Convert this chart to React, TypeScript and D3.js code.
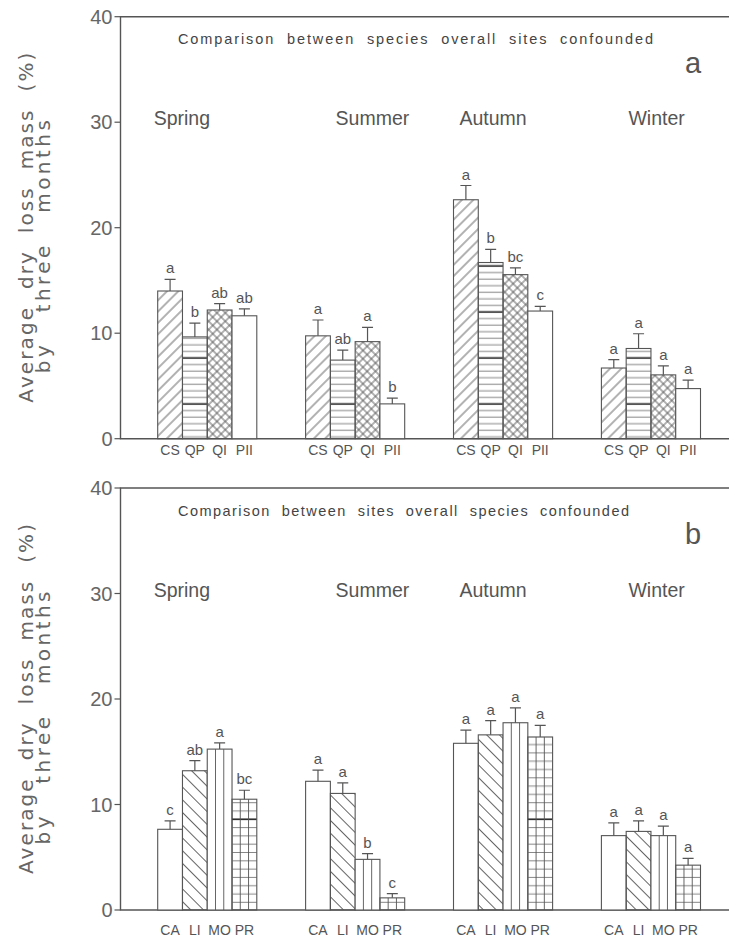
import React, { useEffect, useRef } from 'react';
import * as d3 from 'd3';

// saisons et graduations
const seasons = ['Spring', 'Summer', 'Autumn', 'Winter'];
const yTicks = [0, 10, 20, 30, 40];

// panneau a : espèces
const speciesCodes = ['CS', 'QP', 'QI', 'PII'];
const speciesMeans = [
  [14.0, 9.65, 12.2, 11.65],
  [9.75, 7.45, 9.2, 3.3],
  [22.65, 16.7, 15.55, 12.1],
  [6.7, 8.55, 6.05, 4.75],
];
const speciesErrors = [
  [1.1, 1.3, 0.6, 0.65],
  [1.5, 0.95, 1.35, 0.55],
  [1.35, 1.25, 0.65, 0.45],
  [0.8, 1.4, 0.85, 0.8],
];
const speciesLetters = [
  ['a', 'b', 'ab', 'ab'],
  ['a', 'ab', 'a', 'b'],
  ['a', 'b', 'bc', 'c'],
  ['a', 'a', 'a', 'a'],
];

// panneau b : sites
const siteCodes = ['CA', 'LI', 'MO', 'PR'];
const siteMeans = [
  [7.65, 13.2, 15.25, 10.5],
  [12.2, 11.05, 4.8, 1.15],
  [15.8, 16.6, 17.75, 16.4],
  [7.05, 7.45, 7.05, 4.25],
];
const siteErrors = [
  [0.8, 0.95, 0.6, 0.85],
  [1.05, 1.0, 0.55, 0.4],
  [1.25, 1.35, 1.4, 1.1],
  [1.2, 1.0, 0.9, 0.65],
];
const siteLetters = [
  ['c', 'ab', 'a', 'bc'],
  ['a', 'a', 'b', 'c'],
  ['a', 'a', 'a', 'a'],
  ['a', 'a', 'a', 'a'],
];

const W = 729;
const H = 942;
const axisX = 120.5;
const FONT = '"Liberation Sans", Arial, sans-serif';
const INK = '#555';
const seasonLabelDx = [-4, 30, 6, 27];

interface PanelOpts {
  top: number;
  codes: string[];
  means: number[][];
  errors: number[][];
  letters: string[][];
  fills: string[];
  vlines: boolean[];
  title: string;
  titleLen: number;
  tag: string;
  codeDy: number;
}

const App: React.FC = () => {
  const ref = useRef<SVGSVGElement>(null);

  useEffect(() => {
    if (!ref.current) return;
    const svg = d3.select(ref.current);
    svg.selectAll('*').remove();

    const defs = svg.append('defs');

    // hachures obliques (et croisées)
    const hatch = (id: string, angle: number, gap: number, cross = false) => {
      const p = defs.append('pattern')
        .attr('id', id)
        .attr('patternUnits', 'userSpaceOnUse')
        .attr('width', gap)
        .attr('height', gap)
        .attr('patternTransform', `rotate(${angle})`);
      p.append('line')
        .attr('x1', gap / 2).attr('x2', gap / 2)
        .attr('y1', -1).attr('y2', gap + 1)
        .attr('stroke', INK).attr('stroke-width', 0.9);
      if (cross) {
        p.append('line')
          .attr('x1', -1).attr('x2', gap + 1)
          .attr('y1', gap / 2).attr('y2', gap / 2)
          .attr('stroke', INK).attr('stroke-width', 0.9);
      }
    };
    // lignes horizontales, une plus foncée par période
    const rules = (id: string, gap: number, count: number, offset: number) => {
      const p = defs.append('pattern')
        .attr('id', id)
        .attr('patternUnits', 'userSpaceOnUse')
        .attr('width', 10)
        .attr('height', gap * count)
        .attr('y', offset);
      d3.range(count).forEach(i => {
        p.append('line')
          .attr('x1', -1).attr('x2', 11)
          .attr('y1', (i + 0.5) * gap).attr('y2', (i + 0.5) * gap)
          .attr('stroke', i === 0 ? '#111' : '#777')
          .attr('stroke-width', i === 0 ? 1.5 : 0.9);
      });
    };

    hatch('diag-up', 45, 8);
    hatch('diag-down', -45, 9);
    hatch('cross', 45, 5.9, true);
    rules('rules-a', 46 / 7, 7, 32.7);
    rules('rules-b', 8.3, 12, 18.35);

    const x = d3.scaleBand<string>()
      .domain(seasons)
      .range([157.7, 700.5])
      .paddingInner(0.33)
      .paddingOuter(0);

    const drawPanel = (o: PanelOpts) => {
      const y = d3.scaleLinear().domain([0, 40]).range([o.top + 422, o.top]);
      const inner = d3.scaleBand<string>().domain(o.codes).range([0, x.bandwidth()]);
      const g = svg.append('g');

      // cadre
      g.append('path')
        .attr('d', `M${W},${y(40)}H${axisX}V${y(0)}H${W}`)
        .attr('fill', 'none')
        .attr('stroke', INK)
        .attr('stroke-width', 1.4);

      // graduations
      yTicks.forEach(t => {
        g.append('line')
          .attr('x1', axisX - 6).attr('x2', axisX)
          .attr('y1', y(t)).attr('y2', y(t))
          .attr('stroke', INK).attr('stroke-width', 1.2);
        g.append('text')
          .attr('x', axisX - 8)
          .attr('y', y(t) + 7)
          .attr('text-anchor', 'end')
          .attr('font-family', FONT)
          .attr('font-size', 20)
          .attr('fill', '#666')
          .text(t);
      });

      // titre de l'axe y
      [['Average  dry  loss  mass  (%)', 33, 211, 350], ['by   three   months', 50, 230, 253]].forEach(([txt, bx, cy, len]) => {
        g.append('text')
          .attr('transform', `translate(${bx},${o.top + (cy as number)}) rotate(-90)`)
          .attr('text-anchor', 'middle')
          .attr('font-family', '"DejaVu Sans", sans-serif')
          .attr('font-size', 20)
          .attr('fill', '#666')
          .style('white-space', 'pre')
          .attr('textLength', len as number)
          .attr('lengthAdjust', 'spacing')
          .text(txt as string);
      });

      // titre du panneau
      g.append('text')
        .attr('x', 178)
        .attr('y', o.top + 27.5)
        .attr('font-family', FONT)
        .attr('font-size', 14.5)
        .attr('fill', '#444')
        .style('white-space', 'pre')
        .attr('textLength', o.titleLen)
        .attr('lengthAdjust', 'spacing')
        .text(o.title);

      g.append('text')
        .attr('x', 685)
        .attr('y', o.top + 56)
        .attr('font-family', FONT)
        .attr('font-size', 29)
        .attr('fill', '#555')
        .text(o.tag);

      seasons.forEach((s, si) => {
        const gx = x(s) as number;
        g.append('text')
          .attr('x', gx + seasonLabelDx[si])
          .attr('y', o.top + 108.5)
          .attr('font-family', FONT)
          .attr('font-size', 19.5)
          .attr('fill', '#555')
          .text(s);

        o.codes.forEach((c, ci) => {
          const bx = gx + (inner(c) as number);
          const bw = inner.bandwidth();
          const v = o.means[si][ci];
          const e = o.errors[si][ci];
          const cx = bx + bw / 2;

          g.append('rect')
            .attr('x', bx).attr('y', y(v))
            .attr('width', bw).attr('height', y(0) - y(v))
            .attr('fill', o.fills[ci]);
          if (o.vlines[ci]) {
            [1, 2].forEach(k => {
              g.append('line')
                .attr('x1', bx + (bw * k) / 3).attr('x2', bx + (bw * k) / 3)
                .attr('y1', y(v)).attr('y2', y(0))
                .attr('stroke', INK).attr('stroke-width', 0.9);
            });
          }
          g.append('rect')
            .attr('x', bx).attr('y', y(v))
            .attr('width', bw).attr('height', y(0) - y(v))
            .attr('fill', 'none')
            .attr('stroke', INK)
            .attr('stroke-width', 1.1);

          // barre d'erreur
          g.append('path')
            .attr('d', `M${cx},${y(v)}V${y(v + e)}M${cx - 5.5},${y(v + e)}H${cx + 5.5}`)
            .attr('fill', 'none')
            .attr('stroke', INK)
            .attr('stroke-width', 1.2);

          g.append('text')
            .attr('x', cx)
            .attr('y', y(v + e) - 6)
            .attr('text-anchor', 'middle')
            .attr('font-family', FONT)
            .attr('font-size', 15)
            .attr('fill', '#555')
            .text(o.letters[si][ci]);

          g.append('text')
            .attr('x', cx)
            .attr('y', y(0) + o.codeDy)
            .attr('text-anchor', 'middle')
            .attr('font-family', FONT)
            .attr('font-size', 14)
            .attr('fill', '#555')
            .text(c);
        });
      });
    };

    drawPanel({
      top: 16.7,
      codes: speciesCodes,
      means: speciesMeans,
      errors: speciesErrors,
      letters: speciesLetters,
      fills: ['url(#diag-up)', 'url(#rules-a)', 'url(#cross)', 'white'],
      vlines: [false, false, false, false],
      title: 'Comparison  between  species  overall  sites  confounded',
      titleLen: 475,
      tag: 'a',
      codeDy: 16.5,
    });

    drawPanel({
      top: 488,
      codes: siteCodes,
      means: siteMeans,
      errors: siteErrors,
      letters: siteLetters,
      fills: ['white', 'url(#diag-down)', 'white', 'url(#rules-b)'],
      vlines: [false, false, true, true],
      title: 'Comparison  between  sites  overall  species  confounded',
      titleLen: 451,
      tag: 'b',
      codeDy: 25,
    });
  }, []);

  return (
    <svg
      ref={ref}
      width={W}
      height={H}
      style={{ position: 'absolute', left: 0, top: 0, background: '#fff' }}
    />
  );
};

export default App;
